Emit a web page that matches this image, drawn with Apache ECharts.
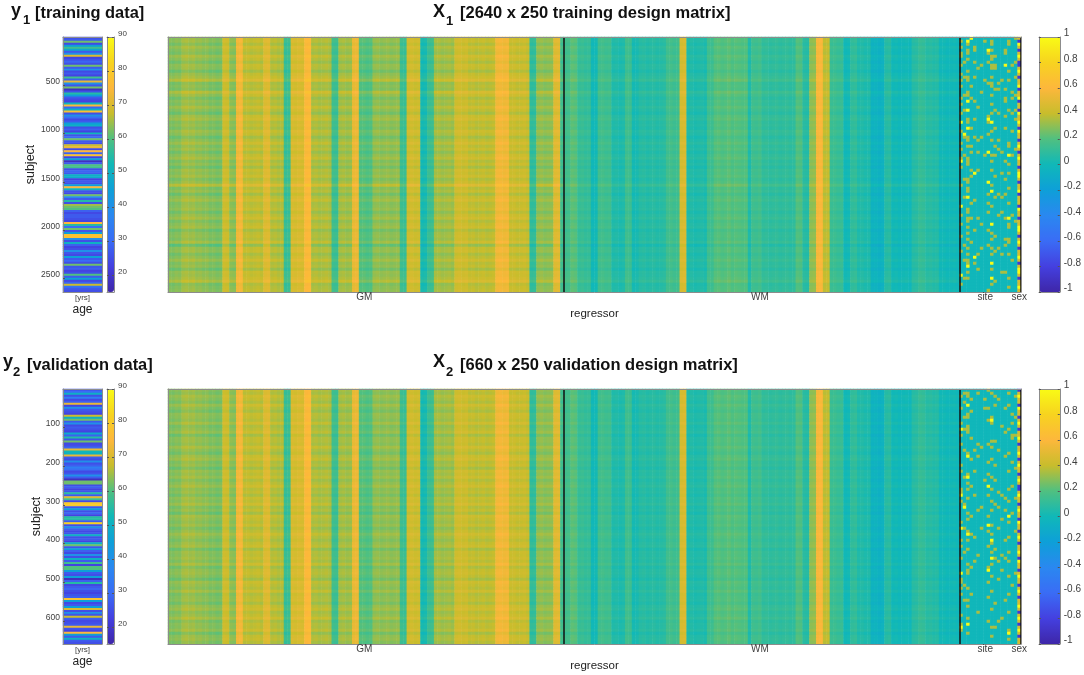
<!DOCTYPE html>
<html><head><meta charset="utf-8">
<style>html,body{margin:0;padding:0;background:#fff}#c{width:1084px;height:675px}</style>
<script src="https://cdn.jsdelivr.net/npm/echarts@6/dist/echarts.min.js"></script>
</head><body><div id="c"></div>
<script>
// Values are estimated by eye from the reference. Each X cell = column level + row brightness
// (both); site/sex cells come from read dash positions.
const parulaStops = ['#3e26a8','#4440e0','#3a6cf5','#2a88f0','#0e9fd8','#10b8b8','#50c080','#c8bd2c','#fdb73c','#f7d31f','#f9fb15'];

const age1 = [25,27,62,24,45,58,48,27,40,70,23,26,29,25,62,27,40,24,27,23,58,28,72,40,26,62,18,25,55,45,27,24,23,52,75,29,50,78,25,40,31,24,27,45,50,25,28,23,52,26,30,62,27,25,68,72,24,75,28,78,23,45,18,27,60,58,25,29,27,50,48,23,27,25,45,75,52,26,24,62,38,27,55,25,65,62,60,28,24,27,27,25,23,75,55,30,62,26,45,78,78,40,25,50,28,23,25,40,26,24,45,27,30,25,62,26,28,23,25,60,27,45,24,29,68,32,27,25];
const age2 = [26,30,50,25,35,24,28,72,23,40,27,25,23,68,50,62,27,40,24,27,25,23,48,28,55,26,62,24,25,29,72,52,50,72,27,24,40,25,28,35,31,24,26,40,27,18,62,62,25,28,23,26,55,27,70,58,24,80,80,27,45,25,29,23,55,55,27,82,25,40,28,24,26,50,25,27,23,50,62,26,45,28,24,40,25,50,27,58,23,60,60,45,27,25,45,18,28,55,24,27,29,25,23,26,28,78,45,24,27,45,70,25,40,26,68,28,24,25,27,72,26,23,75,45,27,50,27,25];
const ageTicks = [20,30,40,50,60,70,80,90];

const columnMeans = [
.28,.27,.29,.28,.33,.34,.32,.33,.30,.31,.29,.30,.27,.28,.26,.27,.42,.41,.30,.29,.55,.56,.38,.39,.37,.38,.39,.37,.47,.48,.36,.37,.35,.36,.12,.13,.45,.44,.46,.45,.60,.61,.35,.36,.34,.35,.36,.34,.15,.14,.33,.34,.32,.33,.52,.53,.20,.21,.19,.20,
.30,.31,.29,.30,.31,.29,.30,.31,.14,.13,.42,.43,.41,.42,.02,.03,.13,.14,.33,.34,.32,.33,.34,.32,.42,.43,.41,.42,.38,.39,.37,.38,.39,.37,.38,.39,.55,.56,.54,.55,.40,.41,.39,.40,.41,.39,.10,.11,.30,.31,.29,.30,.31,.48,.49,.15,
.15,.16,.22,.21,.12,.13,.11,.12,.00,.01,.15,.16,.14,.15,.05,.06,.04,.05,.15,.14,.02,.03,.07,.08,.06,.07,.08,.06,.07,.08,.15,.16,.14,.15,.45,.46,.05,.06,.04,.05,.06,.04,.15,.14,.20,.21,.19,.20,.22,.19,.21,.20,.19,.20,.05,.15,.14,.16,.10,.11,.09,.10,.11,.09,.10,.11,.09,.10,.20,.19,.08,.07,.30,.31,.58,.59,.38,.39,.13,.14,.12,.13,.00,.01,.10,.11,.05,.06,.04,.05,-.05,-.04,-.06,-.05,.07,.08,.00,.01,-.01,.00,.01,-.01,.07,.08,.12,.11,.07,.08,.06,.07,.00,.01,-.01,.00,.01,-.01];

const rowLevels1 = [.01,.02,-.02,.03,.00,-.02,.04,.01,-.03,.02,.01,-.04,.01,.03,.08,-.02,.00,-.02,.07,.02,-.03,.01,-.01,.04,.00,-.04,.02,.04,-.01,.01,-.02,.03,.01,-.04,.00,.04,-.01,.02,-.03,.01,.04,-.02,.01,-.04,.02,.00,.03,-.02,.01,.09,-.01,.02,-.04,.01,.04,-.01,.00,.02,-.03,.01,.04,-.02,.01,.03,-.04,.00,.01,-.01,.04,-.07,.01,.02,-.03,.00,.04,-.01,.01,-.04,.02,.01,.03,.07,-.02,.00,.01];
const rowLevels2 = [.01,-.01,.03,.01,-.02,.04,.00,-.03,.02,.01,-.01,.04,-.02,.00,.03,-.04,.01,.01,-.01,.04,.00,-.03,.02,.04,-.01,.01,-.04,.02,.00,.03,-.02,.01,.04,-.01,.01,-.03,.02,.00,.04,-.02,.01,-.04,.03,.01,-.01,.02,-.03,.00,.04,.01,-.02,.01,.03,-.04,.01,.00,.02,-.01,.04,-.03,.01,.02,.00,-.04,.03,.01,-.01,.04,-.02,.00,.01,-.03,.02,.04,-.01,.01,.05,-.02,.01,.00,.03,-.04,.01,.02,-.01];

const siteFaint1 = [
[1,3,5,6,9,12,14,16,20,22,25,31,35,37,40,43,49,59,62,66,71,82],
[8,13,19,24,33,39,47,53,69,74,80],
[2,4,5,7,11,13,14,18,19,27,28,33,34,36,40,41,42,47,48,50,51,57,58,60,61,63,65,67,70,72,74,75,78,80],
[16,20,30,36,38,44,46,55,60,68],
[3,4,8,13,21,27,33,54,64,75],
[10,23,34,38,44,60,72,77],
[9,18,33,62,70],
[1,14,39],
[5,8,15,26,28,32,52,55,58,64,69,84],
[1,2,4,6,7,9,10,13,15,16,19,22,25,31,34,39,41,44,49,56,65,67,70,72,77,82],
[6,9,10,17,24,30,36,39,46,53,66,71,81],
[15,17,25,34,37,52,59,70],
[14,45,38,53,58,72,78],
[4,5,17,20,21,26,30,41,47,52,60,67,69,78],
[1,2,11,14,24,35,36,42,45,50,55,62,63,67,68,72,80,83],
[9,18,20,25,31,39,59,74],
[0,8,13,19,24,27,37,61]];
const siteBright1 = [[28,41,56,79],[32],[1,21,24,30,53,76],[0],[45,73],[],[],[],[4,27,38,48],[28,51,62,75,80],[],[],[],[9],[39,60],[],[]];

const siteFaint2 = [
[2,6,11,15,18,25,27,33,34,37,44,50,52,56,63,64,66,68,75,78,80],
[1,4,9,13,20,29,38,46,54,65,70],
[1,2,5,8,9,12,13,14,21,28,31,33,36,41,43,47,50,53,58,60,61,66,70,72,76,81],
[3,7,16,23,32,42,48,59,68],
[20,27,35,49,57],
[1,18,22,40,55,74],
[19,39,46],
[3,6,30],
[0,6,10,18,24,28,35,42,47,52,59,64,69,77],
[1,9,10,11,17,19,23,29,33,37,40,45,48,51,54,58,62,67,73,79,82],
[2,5,17,25,30,38,53,56,71,79],
[3,20,34,39,46,57,63,77],
[12,35,43,55,60,76],
[6,14,22,36,40,50,56,70],
[1,5,13,21,27,33,37,44,49,54,57,62,68,74,80,83],
[8,11,15,16,24,32,41,65],
[2,9,15,26,36,47,61]];
const siteBright2 = [[13,35,46,61,79],[39],[5,22,29,48,78],[],[],[],[],[],[32,45,60],[10,56,50],[],[],[],[],[42,81],[],[]];

const sex1 = [.45,-.85,1,.45,-.85,.45,1,.45,-.85,-.85,.45,1,.45,-.85,.45,.45,1,-.85,.45,.45,1,-.85,.45,.45,-.85,1,.45,.45,1,.45,-.85,1,.45,.45,-.85,.45,1,.45,-.85,.45,1,.45,.45,-.85,.45,1,1,.45,-.85,.45,.45,1,-.85,.45,.45,.45,-.85,1,.45,.45,-.85,.45,.45,1,1,.45,-.85,.45,1,.45,-.85,.45,.45,1,.45,-.85,.45,1,1,.45,-.85,.45,.45,1,.45];
const sex2 = [-.85,.45,1,.45,.45,-.85,1,.45,.45,-.85,.45,1,.45,-.85,.45,.45,1,.45,-.85,.45,.45,1,.45,-.85,.45,1,.45,.45,-.85,.45,1,.45,-.85,-.85,.45,1,.45,.45,-.85,.45,1,.45,.45,-.85,1,.45,.45,-.85,.45,1,.45,-.85,.45,.45,1,.45,-.85,1,.45,.45,-.85,.45,1,.45,.45,-.85,.45,1,.45,-.85,.45,.45,1,.45,-.85,.45,1,.45,-.85,.45,1,.45,-.85,.45,.45];

const designTicks = [-1,-.8,-.6,-.4,-.2,0,.2,.4,.6,.8,1];
const subjectTicks1 = [500,1000,1500,2000,2500];
const subjectTicks2 = [100,200,300,400,500,600];
const regressorNames = {57:'GM',173:'WM',239:'site',249:'sex'};

const GM = 116, WM = 116, SITE = 17;
const txt = '#404040', frame = '#8c8c8c', font = 'Liberation Sans';
const nCols = GM + WM + SITE + 1, nRows = rowLevels1.length;
const colCats = Array.from({length:nCols},(_,i)=>regressorNames[i]||'');
const rowCats = Array.from({length:nRows},(_,i)=>String(i));

function matrix(levels, faint, bright, sex){
  const out=[];
  for(let r=0;r<nRows;r++) for(let c=0;c<nCols;c++){
    let v;
    if(c<GM) v=columnMeans[c]+levels[r];
    else if(c<GM+WM) v=columnMeans[c]+levels[r]*0.6;
    else if(c<GM+WM+SITE){
      const s=c-GM-WM;
      v=bright[s].includes(r)?1:faint[s].includes(r)?0.35:-0.01;
    } else v=sex[r];
    out.push([c,r,v]);
  }
  return out;
}

const grid=[],xAxis=[],yAxis=[],series=[],visualMap=[],title=[];
function addGrid(l,t,w,h){grid.push({left:l,top:t,width:w,height:h,show:false});return grid.length-1;}
const line={show:true,onZero:false,lineStyle:{color:frame,width:1}};
function plainX(g,pos){xAxis.push({gridIndex:g,type:'category',position:pos,z:10,data:[''],axisLine:line,axisTick:{show:false},axisLabel:{show:false},splitLine:{show:false}});return xAxis.length-1;}
function ticksY(g,pos,min,max,vals,labelFont,fmt){
  yAxis.push({gridIndex:g,type:'value',position:pos,min,max,z:10,axisLine:line,
    axisTick:{show:true,inside:true,length:2,lineStyle:{color:'#555'},customValues:vals},
    axisLabel:{show:!!labelFont,customValues:vals,color:txt,fontFamily:font,fontSize:labelFont||8,margin:4,verticalAlign:'bottom',lineHeight:7,formatter:fmt},
    splitLine:{show:false}});
  return yAxis.length-1;
}
function colorbar(l,t,w,h,min,max,vals,fs,fmt,seriesIndex){
  const g=addGrid(l,t,w,h);
  plainX(g,'bottom');plainX(g,'top');
  ticksY(g,'right',min,max,vals,fs,fmt);
  ticksY(g,'left',min,max,vals,0);
  visualMap.push({type:'continuous',seriesIndex,dimension:2,min,max,left:l,top:t,itemWidth:w,itemHeight:h,padding:0,
    text:null,calculable:false,hoverLink:false,realtime:false,inRange:{color:parulaStops},z:4});
}
function panel(t,cfg){
  // age strip
  const g=addGrid(63,t,39,255);
  xAxis.push({gridIndex:g,type:'category',position:'bottom',z:10,data:['[yrs]'],axisLine:line,axisTick:{show:false},
    axisLabel:{color:txt,fontFamily:font,fontSize:8,margin:2},name:'age',nameLocation:'middle',nameGap:12,
    nameTextStyle:{color:'#222',fontFamily:font,fontSize:12}});
  const xa=xAxis.length-1; plainX(g,'top');
  yAxis.push({gridIndex:g,type:'category',position:'right',inverse:true,z:10,data:cfg.age.map((_,i)=>String(i)),axisLine:line,axisTick:{show:false},axisLabel:{show:false}});
  const ya=yAxis.length-1;
  yAxis.push({gridIndex:g,type:'value',position:'left',inverse:true,min:0,max:cfg.n,z:10,axisLine:line,
    axisTick:{show:true,inside:true,length:2,lineStyle:{color:'#555'},customValues:cfg.ticks},
    axisLabel:{customValues:cfg.ticks,color:txt,fontFamily:font,fontSize:8.5,margin:3,verticalAlign:'bottom',lineHeight:7,formatter:(v)=>String(v)},
    splitLine:{show:false},name:'subject',nameLocation:'middle',nameGap:cfg.nameGap,nameMoveOverlap:false,nameTextStyle:{color:'#222',fontFamily:font,fontSize:12.5}});
  const ageSeries=series.length;
  series.push({type:'heatmap',xAxisIndex:xa,yAxisIndex:ya,data:cfg.age.map((v,i)=>[0,i,v]),progressive:0,animation:false,emphasis:{disabled:true}});
  colorbar(107,t,7,255,15,90,ageTicks,8,null,ageSeries);

  // design matrix
  const g2=addGrid(168,t,853,255);
  xAxis.push({gridIndex:g2,type:'category',position:'bottom',z:10,data:colCats,axisLine:line,axisTick:{show:false},
    axisLabel:{interval:(i)=>colCats[i]!=='',hideOverlap:false,color:txt,fontFamily:font,fontSize:10,margin:0},
    splitLine:{show:true,interval:(i)=>i===GM||i===GM+WM,lineStyle:{color:'#111',width:1.5}},
    name:'regressor',nameLocation:'middle',nameGap:16,nameTextStyle:{color:'#222',fontFamily:font,fontSize:11.5}});
  const xd=xAxis.length-1; plainX(g2,'top');
  yAxis.push({gridIndex:g2,type:'category',position:'left',inverse:true,z:10,data:rowCats,axisLine:line,axisTick:{show:false},axisLabel:{show:false}});
  const yd=yAxis.length-1;
  yAxis.push({gridIndex:g2,type:'category',position:'right',z:10,data:[''],axisLine:line,axisTick:{show:false},axisLabel:{show:false}});
  const dSeries=series.length;
  series.push({type:'heatmap',xAxisIndex:xd,yAxisIndex:yd,data:matrix(cfg.levels,cfg.faint,cfg.bright,cfg.sex),progressive:0,animation:false,emphasis:{disabled:true}});
  colorbar(1039,t,22,255,-1,1,designTicks,10,(v)=>String(v),dSeries);
}
function head(parts){parts.forEach(p=>title.push({text:p[0],left:p[1],top:p[2],padding:0,textStyle:{fontFamily:font,fontWeight:'bold',fontSize:p[3],color:'#111'}}));}

panel(37,{age:age1,n:2640,ticks:subjectTicks1,levels:rowLevels1,faint:siteFaint1,bright:siteBright1,sex:sex1,nameGap:26});
panel(389,{age:age2,n:660,ticks:subjectTicks2,levels:rowLevels2,faint:siteFaint2,bright:siteBright2,sex:sex2,nameGap:20});

head([['y',11,2,18],['1',23,14,13],['[training data]',35,5,16.4],
      ['X',433,3,18],['1',446,15,13],['[2640 x 250 training design matrix]',460,5,16.5],
      ['y',3,353,18],['2',13,366,13],['[validation data]',27,357,16.4],
      ['X',433,353,18],['2',446,366,13],['[660 x 250 validation design matrix]',460,357,16.5]]);

const chart=echarts.init(document.getElementById('c'),null,{renderer:'canvas'});
chart.setOption({animation:false,backgroundColor:'#fff',tooltip:{show:false},title,grid,xAxis,yAxis,visualMap,series});
</script></body></html>
